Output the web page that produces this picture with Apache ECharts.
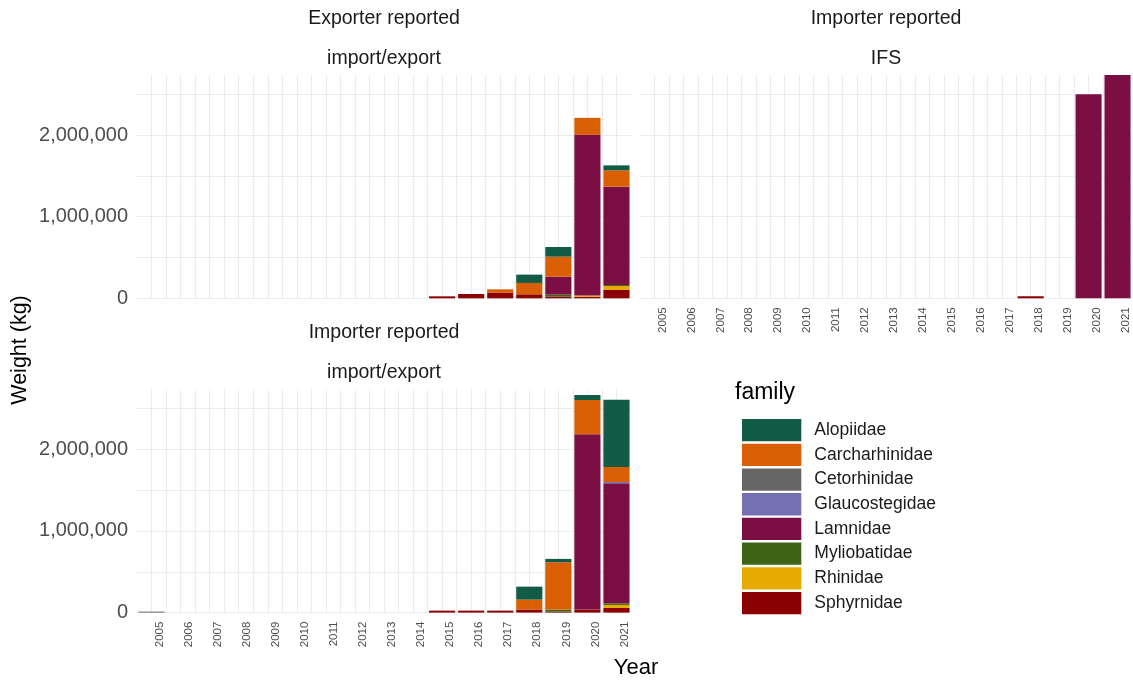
<!DOCTYPE html>
<html>
<head>
<meta charset="utf-8">
<script src="https://cdn.jsdelivr.net/npm/echarts@6/dist/echarts.min.js"></script>
<style>
  html, body { margin: 0; padding: 0; background: #ffffff; }
  #chart { width: 1133px; height: 681px; }
</style>
</head>
<body>
<div id="chart"></div>
<script>
// Years on the x axis (one bar per year)
const years = [2005, 2006, 2007, 2008, 2009, 2010, 2011, 2012, 2013, 2014, 2015, 2016, 2017, 2018, 2019, 2020, 2021];
const yearTicks = years.map(String);

const families = ['Alopiidae', 'Carcharhinidae', 'Cetorhinidae', 'Glaucostegidae', 'Lamnidae', 'Myliobatidae', 'Rhinidae', 'Sphyrnidae'];
const familyColors = ['#125c47', '#d95f02', '#666666', '#7570b3', '#7b0f44', '#3e6416', '#e6ab02', '#8b0000'];

// Weight (kg) – Exporter reported, import/export
const expAlopiidae      = [0, 0, 0, 0, 0, 0, 0, 0, 0, 0, 0, 0, 0, 102000, 118000, 0, 61000];
const expCarcharhinidae = [0, 0, 0, 0, 0, 0, 0, 0, 0, 0, 0, 0, 40000, 139000, 245000, 208000, 200000];
const expCetorhinidae   = [0, 0, 0, 0, 0, 0, 0, 0, 0, 0, 0, 0, 0, 0, 0, 0, 0];
const expGlaucostegidae = [0, 0, 0, 0, 0, 0, 0, 0, 0, 0, 0, 0, 0, 0, 0, 0, 0];
const expLamnidae       = [0, 0, 0, 0, 0, 0, 0, 0, 0, 0, 0, 0, 0, 0, 220000, 1967000, 1204000];
const expMyliobatidae   = [0, 0, 0, 0, 0, 0, 0, 0, 0, 0, 0, 0, 0, 0, 25000, 0, 12000];
const expRhinidae       = [0, 0, 0, 0, 0, 0, 0, 0, 0, 0, 0, 0, 0, 0, 0, 15000, 49000];
const expSphyrnidae     = [0, 0, 0, 0, 0, 0, 0, 0, 0, 0, 24000, 53000, 70000, 49000, 20000, 20000, 102000];

// Weight (kg) – Importer reported, IFS
const ifsAlopiidae      = [0, 0, 0, 0, 0, 0, 0, 0, 0, 0, 0, 0, 0, 0, 0, 0, 0];
const ifsCarcharhinidae = [0, 0, 0, 0, 0, 0, 0, 0, 0, 0, 0, 0, 0, 0, 0, 0, 0];
const ifsCetorhinidae   = [0, 0, 0, 0, 0, 0, 0, 0, 0, 0, 0, 0, 0, 0, 0, 0, 0];
const ifsGlaucostegidae = [0, 0, 0, 0, 0, 0, 0, 0, 0, 0, 0, 0, 0, 0, 0, 0, 0];
const ifsLamnidae       = [0, 0, 0, 0, 0, 0, 0, 0, 0, 0, 0, 0, 0, 0, 0, 2498000, 2735000];
const ifsMyliobatidae   = [0, 0, 0, 0, 0, 0, 0, 0, 0, 0, 0, 0, 0, 0, 0, 0, 0];
const ifsRhinidae       = [0, 0, 0, 0, 0, 0, 0, 0, 0, 0, 0, 0, 0, 0, 0, 0, 0];
const ifsSphyrnidae     = [0, 0, 0, 0, 0, 0, 0, 0, 0, 0, 0, 0, 0, 25000, 0, 0, 0];

// Weight (kg) – Importer reported, import/export
const impAlopiidae      = [0, 0, 0, 0, 0, 0, 0, 0, 0, 0, 0, 0, 0, 159000, 41000, 61000, 824000];
const impCarcharhinidae = [0, 0, 0, 0, 0, 0, 0, 0, 0, 0, 0, 0, 0, 122000, 580000, 420000, 184000];
const impCetorhinidae   = [12000, 0, 0, 0, 0, 0, 0, 0, 0, 0, 0, 0, 0, 0, 0, 0, 0];
const impGlaucostegidae = [0, 0, 0, 0, 0, 0, 0, 0, 0, 0, 0, 0, 0, 0, 0, 0, 16000];
const impLamnidae       = [0, 0, 0, 0, 0, 0, 0, 0, 0, 0, 0, 0, 0, 0, 0, 2147000, 1469000];
const impMyliobatidae   = [0, 0, 0, 0, 0, 0, 0, 0, 0, 0, 0, 0, 0, 0, 25000, 0, 20000];
const impRhinidae       = [0, 0, 0, 0, 0, 0, 0, 0, 0, 0, 0, 0, 0, 0, 0, 0, 37000];
const impSphyrnidae     = [0, 0, 0, 0, 0, 0, 0, 0, 0, 0, 24000, 24000, 24000, 37000, 12000, 37000, 57000];

// Facet strip labels
const stripExp = ['Exporter reported', 'import/export'];
const stripIfs = ['Importer reported', 'IFS'];
const stripImp = ['Importer reported', 'import/export'];

// Panels: [exporter import/export, importer IFS, importer import/export]
const panelValues = [
  [expAlopiidae, expCarcharhinidae, expCetorhinidae, expGlaucostegidae, expLamnidae, expMyliobatidae, expRhinidae, expSphyrnidae],
  [ifsAlopiidae, ifsCarcharhinidae, ifsCetorhinidae, ifsGlaucostegidae, ifsLamnidae, ifsMyliobatidae, ifsRhinidae, ifsSphyrnidae],
  [impAlopiidae, impCarcharhinidae, impCetorhinidae, impGlaucostegidae, impLamnidae, impMyliobatidae, impRhinidae, impSphyrnidae]
];
const panelStrips = [stripExp, stripIfs, stripImp];

const FONT = '"Liberation Sans", Arial, sans-serif';
const GRID_COLOR = '#ebebeb';

// Panel rectangles (facet_wrap layout, 2 columns)
const panelBoxes = [
  { left: 137, top: 75, width: 494, height: 223.3 },
  { left: 640, top: 75, width: 492, height: 223.3 },
  { left: 137, top: 389.3, width: 494, height: 223.3 }
];

// Shared y scale: top of the panels is the tallest stacked bar
let yMax = 0;
panelValues.forEach(function (vals) {
  years.forEach(function (y, i) {
    let s = 0;
    vals.forEach(function (v) { s += v[i]; });
    yMax = Math.max(yMax, s);
  });
});

const grids = panelBoxes.map(function (b) {
  return { left: b.left, top: b.top, width: b.width, height: b.height, containLabel: false };
});

const xAxes = [];
// Year bands carrying the bars and the year labels (axes 0..2)
panelBoxes.forEach(function (b, i) {
  xAxes.push({
    gridIndex: i,
    type: 'category',
    data: yearTicks,
    boundaryGap: true,
    position: 'bottom',
    axisLine: { show: false },
    axisTick: { show: false },
    splitLine: { show: false },
    axisLabel: {
      show: i !== 0,
      interval: 0,
      rotate: 90,
      margin: 9,
      verticalAlign: 'top',
      padding: [2, 0, 0, 0],
      fontSize: 11.5,
      fontFamily: FONT,
      color: '#4d4d4d'
    }
  });
});
// Continuous year scale for major (year) and minor (half-year) grid lines (axes 3..5)
panelBoxes.forEach(function (b, i) {
  xAxes.push({
    gridIndex: i,
    type: 'value',
    min: 2004.5,
    max: 2021.5,
    interval: 0.5,
    position: 'bottom',
    axisLine: { show: false },
    axisTick: { show: false },
    axisLabel: { show: false },
    splitLine: {
      show: true,
      showMinLine: false,
      showMaxLine: false,
      lineStyle: { color: GRID_COLOR, width: 1.1 }
    }
  });
});

const yAxes = panelBoxes.map(function (b, i) {
  return {
    gridIndex: i,
    type: 'value',
    min: 0,
    max: yMax,
    interval: 500000,
    axisLine: { show: false },
    axisTick: { show: false },
    axisLabel: {
      show: i !== 1,
      margin: 9,
      fontSize: 20,
      fontFamily: FONT,
      color: '#4d4d4d',
      formatter: function (v) {
        return v % 1000000 === 0 ? v.toLocaleString('en-US') : '';
      }
    },
    splitLine: {
      show: true,
      showMaxLine: false,
      lineStyle: { color: GRID_COLOR, width: 1.1 }
    }
  };
});

// Stacked bars: the last family sits at the bottom of each stack
const series = [];
panelValues.forEach(function (vals, p) {
  for (let f = families.length - 1; f >= 0; f--) {
    series.push({
      name: families[f],
      type: 'bar',
      stack: 'panel' + p,
      xAxisIndex: p,
      yAxisIndex: p,
      barWidth: '90%',
      itemStyle: { color: familyColors[f] },
      emphasis: { disabled: true },
      data: vals[f].slice()
    });
  }
});

// Facet strips and axis titles
const graphics = [];
panelBoxes.forEach(function (b, i) {
  const cx = b.left + b.width / 2;
  const lines = panelStrips[i];
  [b.top - 56.5, b.top - 16.5].forEach(function (yy, k) {
    graphics.push({
      type: 'text', x: cx, y: yy, silent: true,
      style: {
        text: lines[k], font: '19.5px ' + FONT, fill: '#1a1a1a',
        align: 'center', verticalAlign: 'middle',
        textAlign: 'center', textVerticalAlign: 'middle'
      }
    });
  });
});
graphics.push({
  type: 'text', x: 20, y: 350, rotation: Math.PI / 2, silent: true,
  style: {
    text: 'Weight (kg)', font: '21.5px ' + FONT, fill: '#000000',
    align: 'center', verticalAlign: 'middle', textAlign: 'center', textVerticalAlign: 'middle'
  }
});
graphics.push({
  type: 'text', x: 636, y: 668, silent: true,
  style: {
    text: 'Year', font: '22px ' + FONT, fill: '#000000',
    align: 'center', verticalAlign: 'middle', textAlign: 'center', textVerticalAlign: 'middle'
  }
});
graphics.push({
  type: 'text', x: 735, y: 393, silent: true,
  style: {
    text: 'family', font: '23px ' + FONT, fill: '#000000',
    align: 'left', verticalAlign: 'middle', textAlign: 'left', textVerticalAlign: 'middle'
  }
});

const chart = echarts.init(document.getElementById('chart'), null, { renderer: 'canvas' });
chart.setOption({
  animation: false,
  backgroundColor: '#ffffff',
  grid: grids,
  xAxis: xAxes,
  yAxis: yAxes,
  legend: {
    data: families.map(function (n) { return { name: n, icon: 'rect' }; }),
    orient: 'vertical',
    left: 737,
    top: 414,
    itemWidth: 59.3,
    itemHeight: 22.3,
    itemGap: 2.4,
    selectedMode: false,
    textStyle: { fontSize: 17.5, fontFamily: FONT, color: '#1a1a1a', padding: [0, 0, 0, 8] }
  },
  graphic: graphics,
  series: series
});
</script>
</body>
</html>
